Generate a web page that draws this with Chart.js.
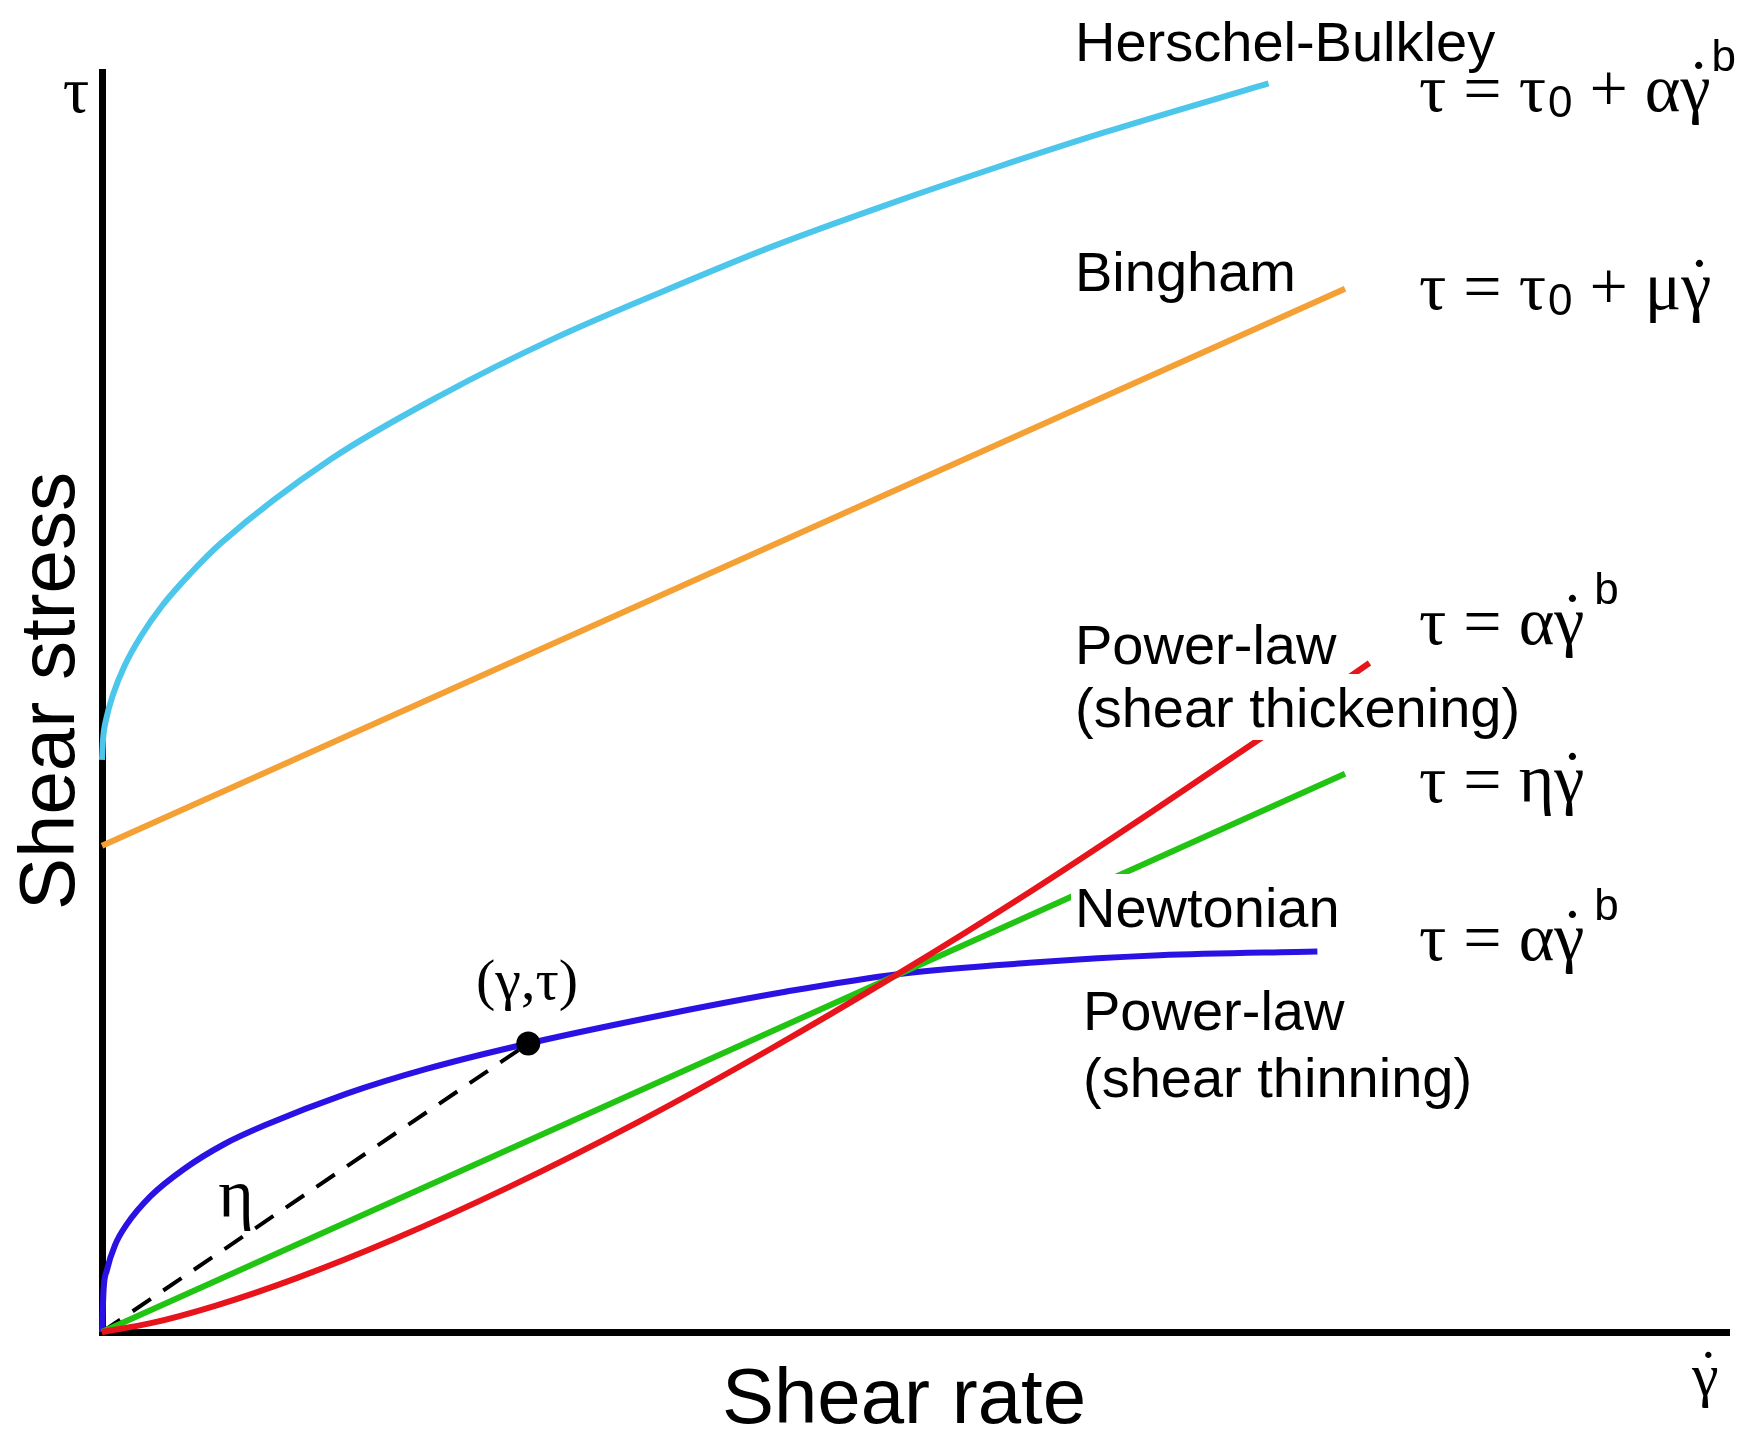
<!DOCTYPE html>
<html>
<head>
<meta charset="utf-8">
<script src="https://cdn.jsdelivr.net/npm/chart.js@4.4.1/dist/chart.umd.min.js"></script>
<style>
  body { margin: 0; background: #fff; }
</style>
</head>
<body>
<canvas id="myChart" width="1741" height="1432"></canvas>
<script>
// values (x: shear rate, y: shear stress, arbitrary units 0..10)
const hbX = [0, 0.007, 0.027, 0.068, 0.136, 0.238, 0.373, 0.543, 0.73, 1.41, 2.09, 2.77, 3.45, 4.13, 4.81, 5.49, 6.16, 7.17];
const hbY = [4.54, 4.71, 4.87, 5.06, 5.28, 5.52, 5.77, 6.02, 6.26, 6.93, 7.44, 7.88, 8.26, 8.62, 8.94, 9.24, 9.52, 9.91];

const binghamX = [0, 7.64];
const binghamY = [3.86, 8.28];

const newtonX = [0, 7.64];
const newtonY = [0, 4.43];

const thickX = [0, 0.3, 0.7, 1.2, 1.8, 2.5, 3.3, 4.1, 4.89, 5.7, 6.5, 7.2, 7.79];
const thickY = [0, 0.07, 0.21, 0.43, 0.74, 1.15, 1.67, 2.24, 2.84, 3.49, 4.17, 4.78, 5.31];

const thinX = [0, 0.01, 0.03, 0.08, 0.15, 0.3, 0.5, 0.75, 1.0, 1.5, 2.0, 2.62, 3.5, 4.2, 4.89, 5.7, 6.5, 7.47];
const thinY = [0, 0.34, 0.49, 0.69, 0.85, 1.08, 1.29, 1.49, 1.64, 1.89, 2.09, 2.29, 2.53, 2.70, 2.84, 2.93, 2.99, 3.02];

const pointX = [2.62];
const pointY = [2.29];

const slopeX = [0, 2.62];
const slopeY = [0, 2.29];

const pts = (xs, ys) => xs.map((x, i) => ({ x: x, y: ys[i] }));

const SANS = '"Liberation Sans", Arial, sans-serif';
const SERIF = '"Liberation Serif", "DejaVu Serif", serif';

function line(label, xs, ys, color, order) {
  return {
    label: label,
    data: pts(xs, ys),
    showLine: true,
    borderColor: color,
    borderWidth: 6,
    pointRadius: 0,
    cubicInterpolationMode: "monotone",
    clip: false,
    order: order,
  };
}

// draw a sequence of text runs one after another; dot:true puts a dot above the run
function runs(ctx, x, y, parts) {
  parts.forEach((p) => {
    ctx.font = p.f;
    x += p.dx || 0;
    ctx.textAlign = "left";
    ctx.fillText(p.t, x, y + (p.dy || 0));
    const w = ctx.measureText(p.t).width;
    if (p.dot) {
      ctx.textAlign = "center";
      ctx.fillText("˙", x + w / 2 + 3, y - 4);
      ctx.textAlign = "left";
    }
    x += w;
  });
}

const labelsPlugin = {
  id: "labels",
  afterDatasetsDraw(chart) {
    const ctx = chart.ctx;
    ctx.save();
    ctx.fillStyle = "#000";
    ctx.textBaseline = "alphabetic";
    ctx.textAlign = "left";

    // curve labels with white boxes behind them
    const labels = [
      ["Herschel-Bulkley", 1075, 61],
      ["Bingham", 1075, 291],
      ["Power-law", 1075, 664],
      ["(shear thickening)", 1075, 727],
      ["Newtonian", 1075, 927],
      ["Power-law", 1083, 1030],
      ["(shear thinning)", 1083, 1097],
    ];
    ctx.font = "56px " + SANS;
    labels.forEach(([t, x, y]) => {
      const w = ctx.measureText(t).width;
      ctx.fillStyle = "#fff";
      ctx.fillRect(x - 4, y - 53, w + 6, 66);
    });
    ctx.fillStyle = "#000";
    labels.forEach(([t, x, y]) => ctx.fillText(t, x, y));

    // constitutive equations
    const big = "68px " + SERIF;
    const small = "44px " + SANS;
    runs(ctx, 1419, 111, [
      { t: "τ = τ", f: big },
      { t: "0", f: small, dy: 6, dx: 2 },
      { t: " + α", f: big },
      { t: "γ", f: big, dot: true },
      { t: "b", f: small, dy: -40, dx: 1 },
    ]);
    runs(ctx, 1419, 309, [
      { t: "τ = τ", f: big },
      { t: "0", f: small, dy: 6, dx: 2 },
      { t: " + μ", f: big },
      { t: "γ", f: big, dot: true },
    ]);
    runs(ctx, 1419, 644, [
      { t: "τ = α", f: big },
      { t: "γ", f: big, dot: true },
      { t: "b", f: small, dy: -40, dx: 10 },
    ]);
    runs(ctx, 1419, 802, [
      { t: "τ = η", f: big },
      { t: "γ", f: big, dot: true },
    ]);
    runs(ctx, 1419, 960, [
      { t: "τ = α", f: big },
      { t: "γ", f: big, dot: true },
      { t: "b", f: small, dy: -40, dx: 10 },
    ]);

    // point label and slope label
    ctx.textAlign = "center";
    ctx.font = "58px " + SERIF;
    ctx.fillText("(γ,τ)", 527, 999);
    ctx.font = "68px " + SERIF;
    ctx.fillText("η", 236, 1217);

    // axis symbols
    ctx.font = "66px " + SERIF;
    ctx.fillText("τ", 76, 112);
    ctx.textAlign = "left";
    runs(ctx, 1692, 1395, [{ t: "γ", f: "60px " + SERIF, dot: true }]);

    // axis titles
    ctx.textAlign = "center";
    ctx.font = "78px " + SANS;
    ctx.fillText("Shear rate", 904, 1423);
    ctx.translate(74, 691);
    ctx.rotate(-Math.PI / 2);
    ctx.fillText("Shear stress", 0, 0);
    ctx.restore();
  },
};

const config = {
  type: "scatter",
  data: {
    datasets: [
      line("Power-law (shear thickening)", thickX, thickY, "#e8141c", 0),
      line("Newtonian", newtonX, newtonY, "#22c414", 1),
      line("Power-law (shear thinning)", thinX, thinY, "#2b12e4", 2),
      line("Bingham", binghamX, binghamY, "#f4a034", 3),
      line("Herschel-Bulkley", hbX, hbY, "#4cc6ea", 4),
      {
        label: "slope",
        data: pts(slopeX, slopeY),
        showLine: true,
        borderColor: "#000",
        borderWidth: 4,
        borderDash: [22, 15],
        pointRadius: 0,
        clip: false,
        order: 5,
      },
      {
        label: "(γ,τ)",
        data: pts(pointX, pointY),
        pointRadius: 12,
        pointBackgroundColor: "#000",
        pointBorderWidth: 0,
        clip: false,
        order: -1,
      },
    ],
  },
  options: {
    responsive: false,
    animation: false,
    layout: {
      padding: { left: 102, top: 72, right: 3, bottom: 100 },
    },
    scales: {
      x: {
        min: 0,
        max: 10,
        ticks: { display: false },
        grid: { display: false },
        border: { color: "#000", width: 7 },
        afterFit: (s) => { s.height = 0; },
      },
      y: {
        min: 0,
        max: 10,
        ticks: { display: false },
        grid: { display: false },
        border: { color: "#000", width: 7 },
        afterFit: (s) => { s.width = 0; },
      },
    },
    plugins: {
      legend: { display: false },
      tooltip: { enabled: false },
    },
  },
  plugins: [labelsPlugin],
};

const ctx = document.getElementById("myChart").getContext("2d");
new Chart(ctx, config);
</script>
</body>
</html>
